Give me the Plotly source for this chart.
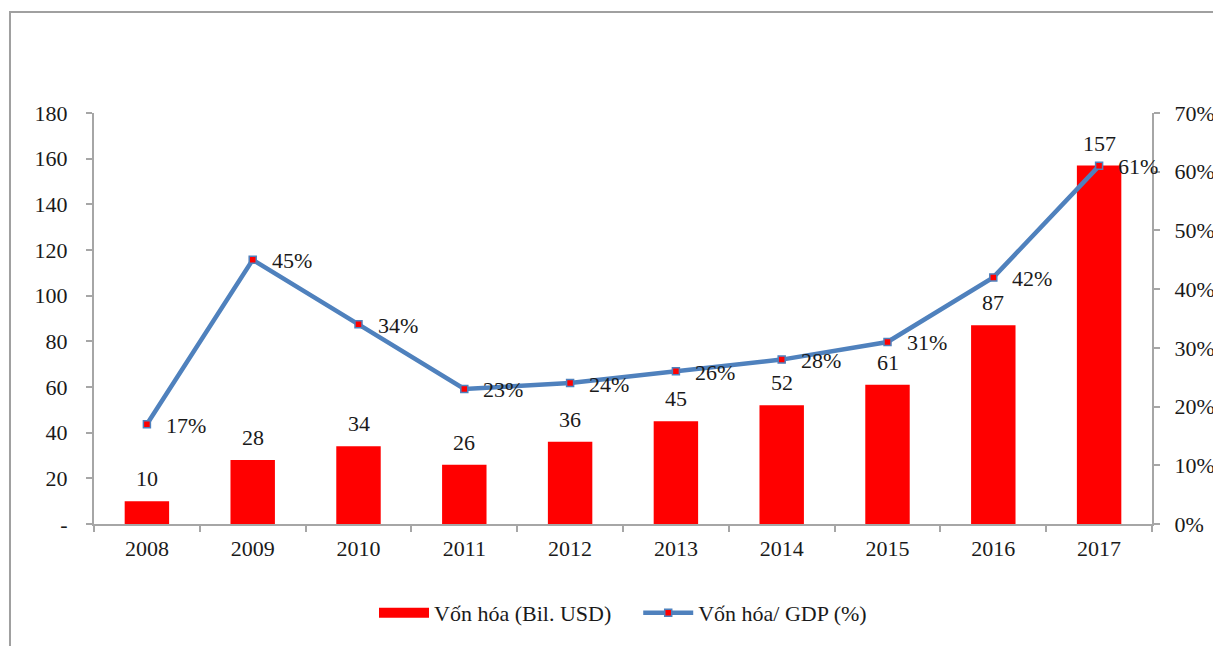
import plotly.graph_objects as go

years = ["2008", "2009", "2010", "2011", "2012", "2013", "2014", "2015", "2016", "2017"]
cap_bil_usd = [10, 28, 34, 26, 36, 45, 52, 61, 87, 157]
cap_gdp_pct = [17, 45, 34, 23, 24, 26, 28, 31, 42, 61]
left_ticks = [0, 20, 40, 60, 80, 100, 120, 140, 160, 180]
left_ticktext = ["-", "20", "40", "60", "80", "100", "120", "140", "160", "180"]
right_ticks = [0, 10, 20, 30, 40, 50, 60, 70]

FONT = "Liberation Serif, Times New Roman, serif"
FS = 22
TXT = "#1a1a1a"
BLUE = "#4F81BD"
RED = "#FF0000"
GRAY = "#a6a6a6"

fig = go.Figure()
fig.add_trace(go.Bar(
    x=years, y=cap_bil_usd, name="Vốn hóa (Bil. USD)",
    marker=dict(color=RED, line=dict(width=0)), width=0.42,
    yaxis="y", hoverinfo="skip", showlegend=False,
))
# legend entry for the bars, drawn as a wide red swatch like the original
fig.add_trace(go.Scatter(
    x=[None], y=[None], name="Vốn hóa (Bil. USD)\u00a0\u00a0\u00a0\u00a0", mode="lines",
    line=dict(color=RED, width=13), yaxis="y", hoverinfo="skip",
))
fig.add_trace(go.Scatter(
    x=years, y=cap_gdp_pct, name="Vốn hóa/ GDP (%)", yaxis="y2",
    mode="lines+markers",
    line=dict(color=BLUE, width=4.5),
    marker=dict(symbol="square", size=7, color=RED, line=dict(color=BLUE, width=1.5)),
    hoverinfo="skip",
))

annotations = []
for i, v in enumerate(cap_bil_usd):
    annotations.append(dict(x=i, y=v, xref="x", yref="y", text=str(v), showarrow=False,
                            yanchor="bottom", yshift=8, font=dict(family=FONT, size=FS, color=TXT)))
for i, v in enumerate(cap_gdp_pct):
    annotations.append(dict(x=i, y=v, xref="x", yref="y2", text=f"{v}%", showarrow=False,
                            xanchor="left", xshift=17, yshift=-1,
                            font=dict(family=FONT, size=FS, color=TXT)))

fig.update_layout(
    width=1213, height=638,
    margin=dict(l=86, r=69, t=105, b=122, autoexpand=False),
    paper_bgcolor="white", plot_bgcolor="white",
    font=dict(family=FONT, size=FS, color=TXT),
    showlegend=True,
    legend=dict(orientation="h", x=0.5, xanchor="center", y=-0.2165, yanchor="middle",
                font=dict(family=FONT, size=FS, color=TXT), itemwidth=50,
                traceorder="normal", tracegroupgap=0),
    xaxis=dict(type="category", range=[-0.5, 9.5], showline=True, linecolor=GRAY, linewidth=2,
               ticks="outside", tickson="boundaries", ticklen=6, tickcolor=GRAY, tickwidth=2,
               showgrid=False, tickangle=0, ticklabelstandoff=4,
               tickfont=dict(family=FONT, size=FS, color=TXT)),
    yaxis=dict(range=[0, 180], tickvals=left_ticks, ticktext=left_ticktext,
               showline=True, linecolor=GRAY, linewidth=2, ticks="outside", ticklen=6,
               tickcolor=GRAY, tickwidth=2, showgrid=False, zeroline=False,
               tickfont=dict(family=FONT, size=FS, color=TXT), ticklabelstandoff=14),
    yaxis2=dict(range=[0, 70], tickvals=right_ticks, ticktext=[f"{t}%" for t in right_ticks],
                overlaying="y", side="right",
                showline=True, linecolor=GRAY, linewidth=2, ticks="outside", ticklen=6,
                tickcolor=GRAY, tickwidth=2, showgrid=False, zeroline=False,
                tickfont=dict(family=FONT, size=FS, color=TXT), ticklabelstandoff=10),
    annotations=annotations,
    shapes=[dict(type="rect", xref="paper", yref="paper", x0=-0.0794, y0=-0.5, x1=1.2, y1=1.2457,
                 line=dict(color="#a0a0a0", width=2), fillcolor="rgba(0,0,0,0)", layer="below")],
)

fig.write_html("out.html")
